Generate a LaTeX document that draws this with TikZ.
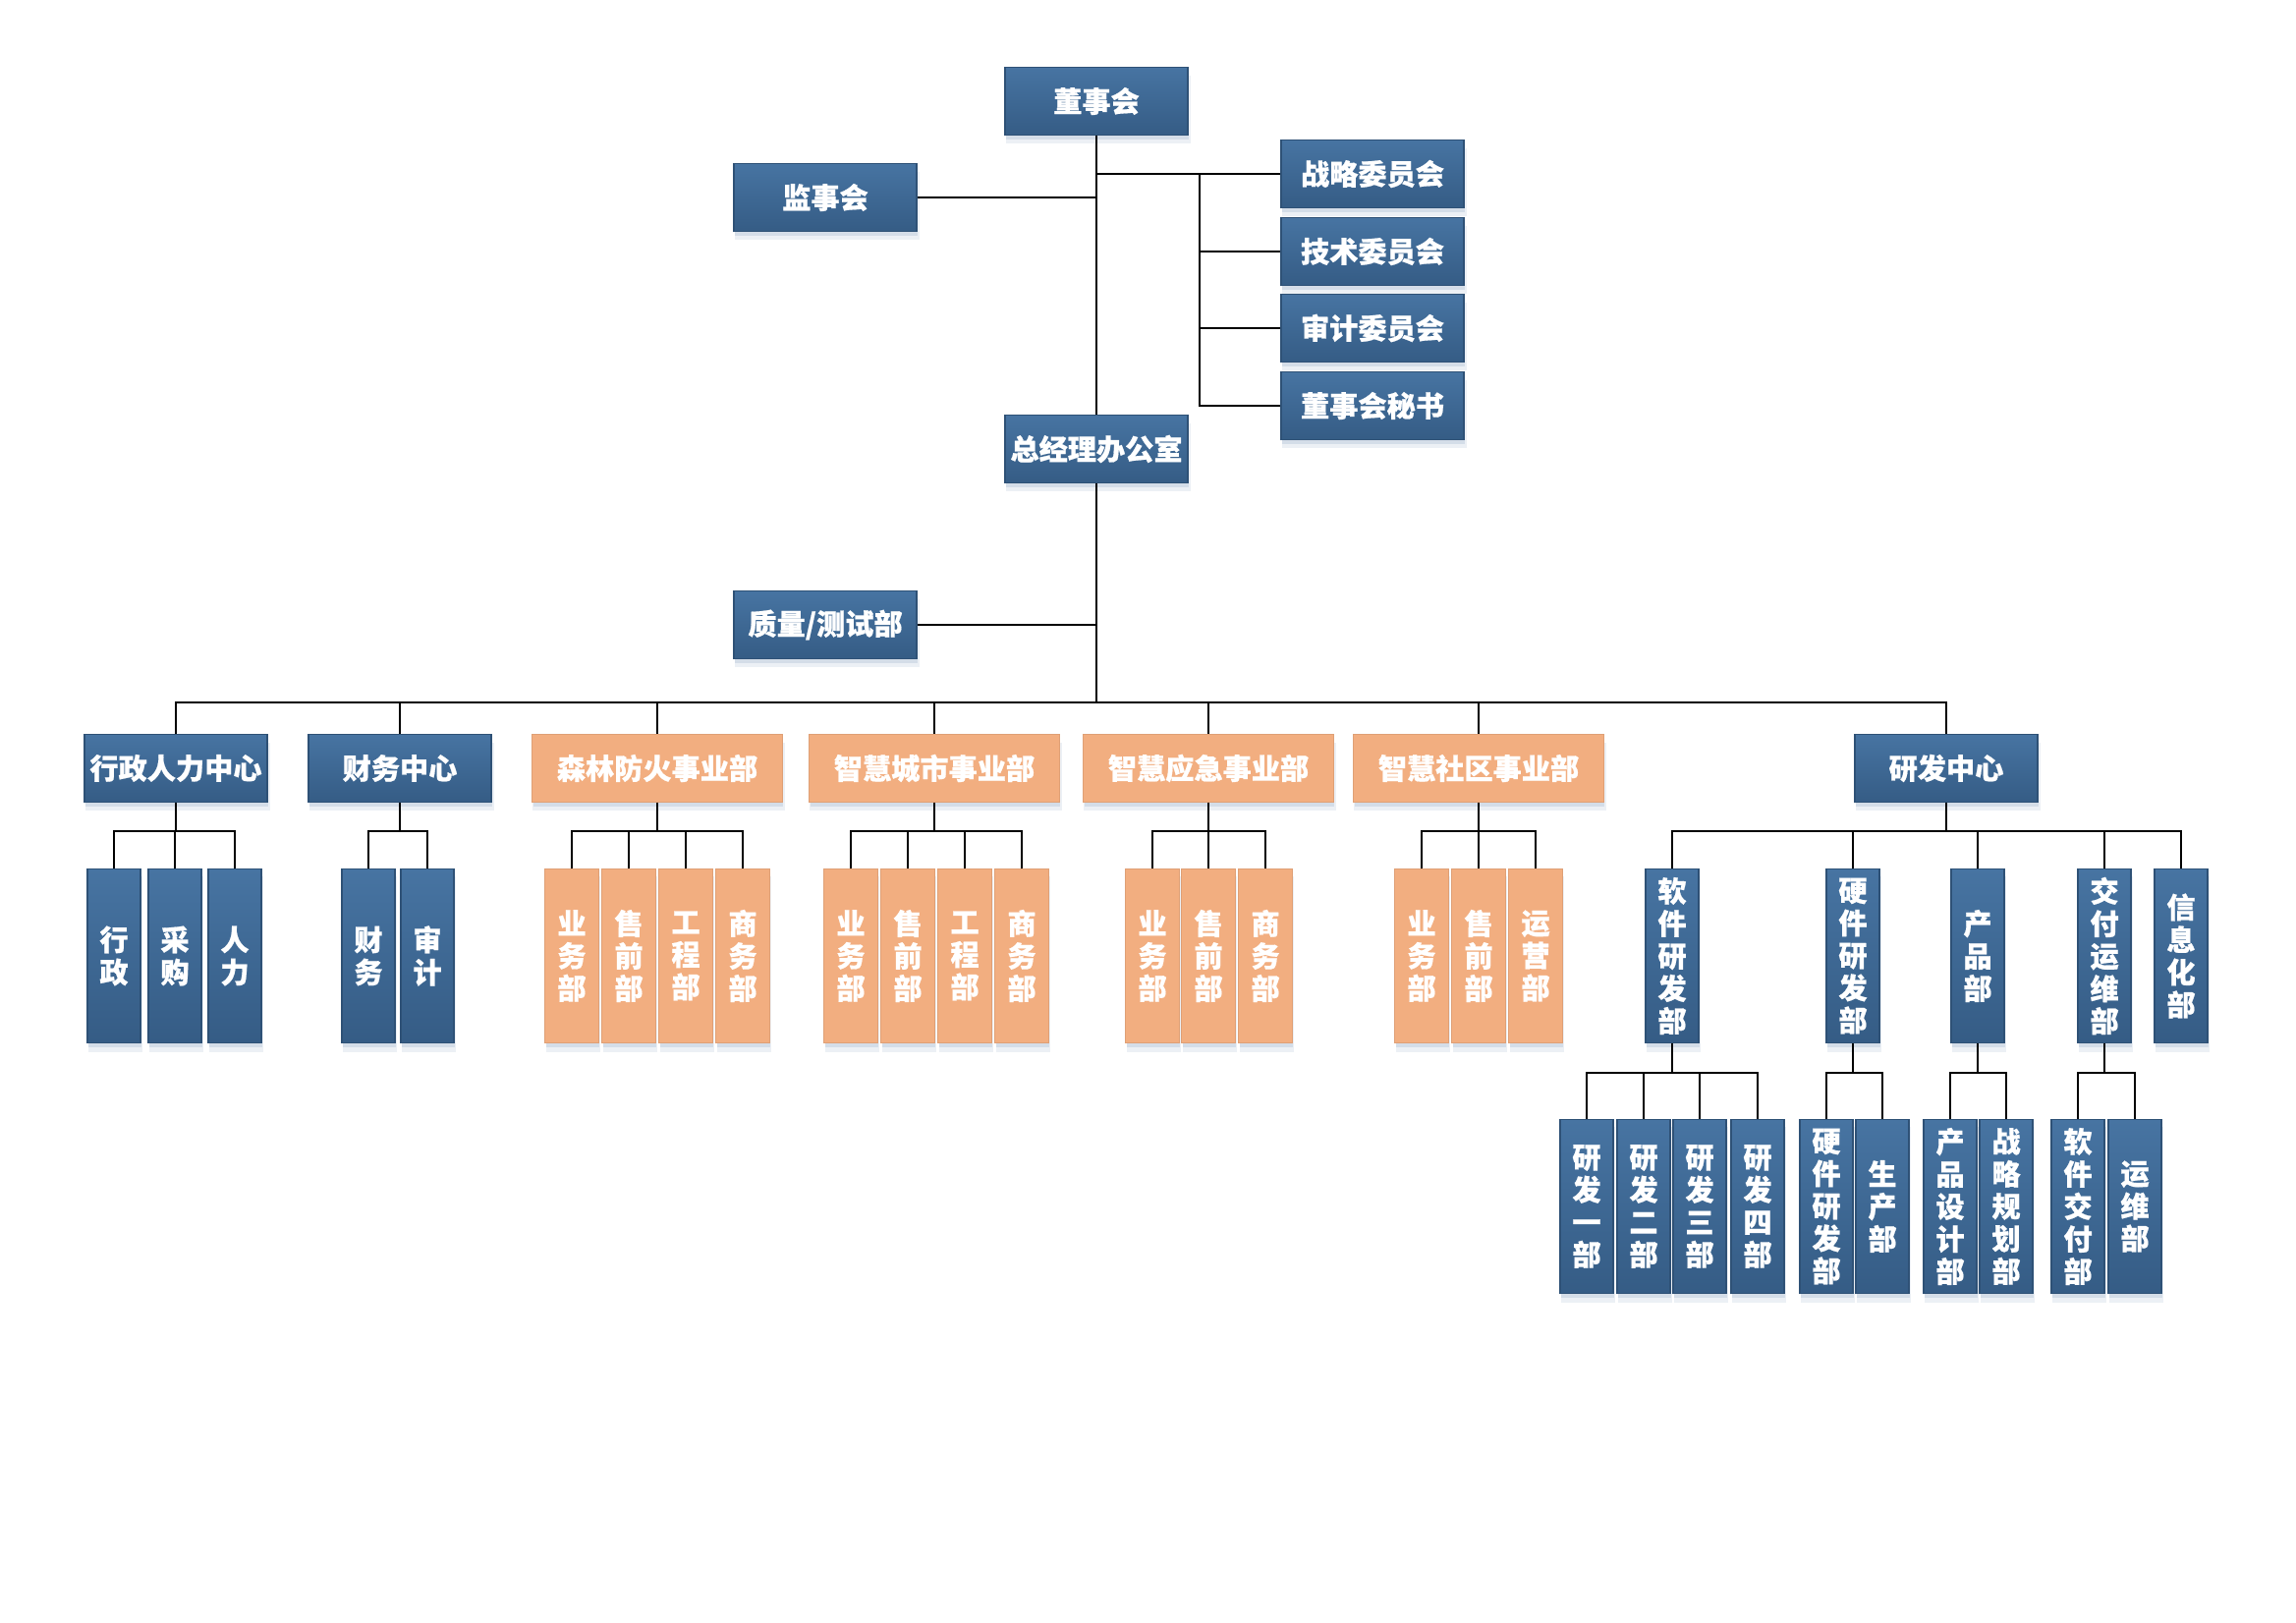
\documentclass[tikz,border=0pt]{standalone}
\usepackage{fontspec}
\setmainfont{Noto Sans CJK SC}[BoldFeatures={FakeBold=0.6}]
\usetikzlibrary{shadows}
\definecolor{bluetop}{HTML}{4774A2}
\definecolor{bluebot}{HTML}{355C85}
\definecolor{blueedge}{HTML}{2E5176}
\definecolor{orangef}{HTML}{F2AE80}
\definecolor{shc}{HTML}{A9BCD2}
\tikzset{
  shadowed/.style={
    general shadow={fill=shc, opacity=0.22, shadow xshift=0.5pt, shadow yshift=-2.4pt, shadow scale=1.01},
    general shadow={fill=shc, opacity=0.35, shadow xshift=0.3pt, shadow yshift=-1.2pt}},
  box/.style={rectangle, shadowed, inner sep=0pt, text=white,
    font=\fontsize{8.3}{9.4}\selectfont\bfseries, align=center},
  bbox/.style={box, top color=bluetop, bottom color=bluebot, draw=blueedge, line width=0.5pt},
  obox/.style={box, fill=orangef, draw=orangef!92!black, line width=0.3pt},
  big/.style={minimum width=1.86cm, minimum height=0.69cm},
  wide/.style={minimum width=2.54cm, minimum height=0.69cm},
  leaf/.style={minimum width=0.545cm, minimum height=1.77cm},
  conn/.style={draw=black, line width=0.75pt}
}
\begin{document}
\begin{tikzpicture}[x=0.01cm, y=-0.01cm]
\useasboundingbox (0,0) rectangle (2337,1652);
\fill[white] (0,0) rectangle (2337,1652);

% top part
\node[bbox, big] (dsh) at (1116,103) {董事会};
\node[bbox, big] (jsh) at (840,201) {监事会};
\node[bbox, big] (zlwy) at (1397,177) {战略委员会};
\node[bbox, big] (jswy) at (1397,256) {技术委员会};
\node[bbox, big] (sjwy) at (1397,334) {审计委员会};
\node[bbox, big] (dsms) at (1397,413) {董事会秘书};
\node[bbox, big] (zjl) at (1116,457) {总经理办公室};
\node[bbox, big] (zlcs) at (840,636) {质量/测试部};

% middle row
\node[bbox, big] (xz) at (179,782) {行政人力中心};
\node[bbox, big] (cw) at (407,782) {财务中心};
\node[obox, wide] (sl) at (669,782) {森林防火事业部};
\node[obox, wide] (cs) at (951,782) {智慧城市事业部};
\node[obox, wide] (yj) at (1230,782) {智慧应急事业部};
\node[obox, wide] (sq) at (1505,782) {智慧社区事业部};
\node[bbox, big] (yf) at (1981,782) {研发中心};

% leaf row 1
\node[bbox, leaf] (xz1) at (116,973) {行\\政};
\node[bbox, leaf] (xz2) at (178,973) {采\\购};
\node[bbox, leaf] (xz3) at (239,973) {人\\力};
\node[bbox, leaf] (cw1) at (375,973) {财\\务};
\node[bbox, leaf] (cw2) at (435,973) {审\\计};
\node[obox, leaf] (sl1) at (582,973) {业\\务\\部};
\node[obox, leaf] (sl2) at (640,973) {售\\前\\部};
\node[obox, leaf] (sl3) at (698,973) {工\\程\\部};
\node[obox, leaf] (sl4) at (756,973) {商\\务\\部};
\node[obox, leaf] (cs1) at (866,973) {业\\务\\部};
\node[obox, leaf] (cs2) at (924,973) {售\\前\\部};
\node[obox, leaf] (cs3) at (982,973) {工\\程\\部};
\node[obox, leaf] (cs4) at (1040,973) {商\\务\\部};
\node[obox, leaf] (yj1) at (1173,973) {业\\务\\部};
\node[obox, leaf] (yj2) at (1230,973) {售\\前\\部};
\node[obox, leaf] (yj3) at (1288,973) {商\\务\\部};
\node[obox, leaf] (sq1) at (1447,973) {业\\务\\部};
\node[obox, leaf] (sq2) at (1505,973) {售\\前\\部};
\node[obox, leaf] (sq3) at (1563,973) {运\\营\\部};
\node[bbox, leaf] (yf1) at (1702,973) {软\\件\\研\\发\\部};
\node[bbox, leaf] (yf2) at (1886,973) {硬\\件\\研\\发\\部};
\node[bbox, leaf] (yf3) at (2013,973) {产\\品\\部};
\node[bbox, leaf] (yf4) at (2142,973) {交\\付\\运\\维\\部};
\node[bbox, leaf] (yf5) at (2220,973) {信\\息\\化\\部};

% leaf row 2
\node[bbox, leaf] (rj1) at (1615,1228) {研\\发\\一\\部};
\node[bbox, leaf] (rj2) at (1673,1228) {研\\发\\二\\部};
\node[bbox, leaf] (rj3) at (1730,1228) {研\\发\\三\\部};
\node[bbox, leaf] (rj4) at (1789,1228) {研\\发\\四\\部};
\node[bbox, leaf] (yj21) at (1859,1228) {硬\\件\\研\\发\\部};
\node[bbox, leaf] (yj22) at (1916,1228) {生\\产\\部};
\node[bbox, leaf] (cp1) at (1985,1228) {产\\品\\设\\计\\部};
\node[bbox, leaf] (cp2) at (2042,1228) {战\\略\\规\\划\\部};
\node[bbox, leaf] (jf1) at (2115,1228) {软\\件\\交\\付\\部};
\node[bbox, leaf] (jf2) at (2173,1228) {运\\维\\部};

% bus coordinates
\coordinate (cbus) at (1221,177);
\coordinate (mbus) at (1116,715);
\coordinate (r1) at (0,846);
\coordinate (r2) at (0,1092);

% connectors top
\draw[conn] (dsh.south) -- (zjl.north);
\draw[conn] (jsh.east) -- (jsh.east -| dsh.south);
\draw[conn] (zlwy.west -| dsh.south) -- (zlwy.west);
\draw[conn] (cbus) |- (dsms.west);
\draw[conn] (cbus |- jswy.west) -- (jswy.west);
\draw[conn] (cbus |- sjwy.west) -- (sjwy.west);
\draw[conn] (zjl.south) -- (mbus);
\draw[conn] (zlcs.east) -- (zlcs.east -| zjl.south);
\foreach \n in {xz,cw,sl,cs,yj,sq,yf}
  \draw[conn] (mbus) -| (\n.north);

% connectors row 1
\foreach \p/\c in {xz/xz1,xz/xz2,xz/xz3,cw/cw1,cw/cw2,
  sl/sl1,sl/sl2,sl/sl3,sl/sl4,cs/cs1,cs/cs2,cs/cs3,cs/cs4,
  yj/yj1,yj/yj2,yj/yj3,sq/sq1,sq/sq2,sq/sq3,
  yf/yf1,yf/yf2,yf/yf3,yf/yf4,yf/yf5}
  \draw[conn] (\p.south) -- (\p.south |- r1) -| (\c.north);

% connectors row 2
\foreach \p/\c in {yf1/rj1,yf1/rj2,yf1/rj3,yf1/rj4,yf2/yj21,yf2/yj22,
  yf3/cp1,yf3/cp2,yf4/jf1,yf4/jf2}
  \draw[conn] (\p.south) -- (\p.south |- r2) -| (\c.north);
\end{tikzpicture}
\end{document}
